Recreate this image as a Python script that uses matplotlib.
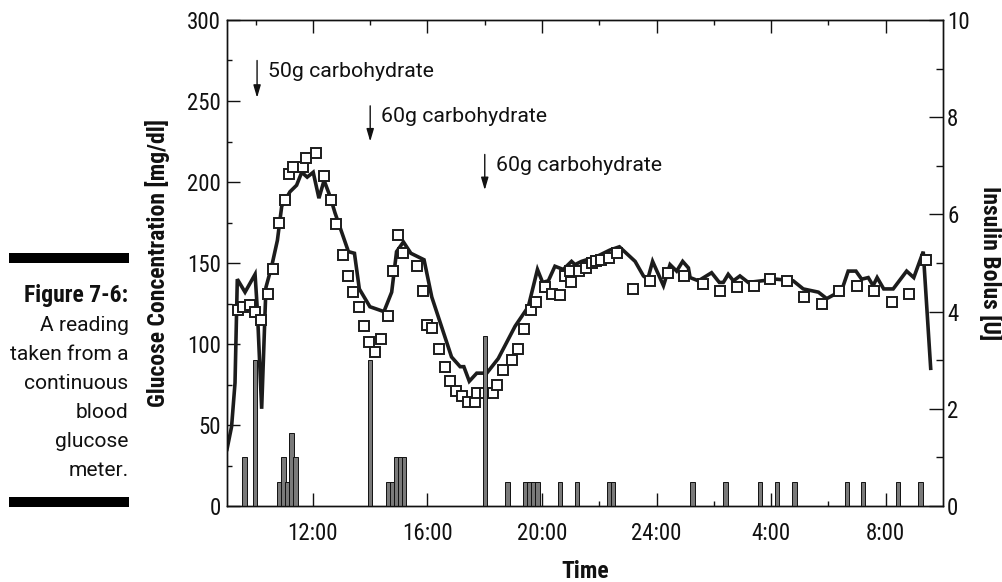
import matplotlib
matplotlib.use("Agg")
import matplotlib.pyplot as plt
from matplotlib.patches import Rectangle

# ---------------- data ----------------
# time in hours from midnight of day 1 (24 = midnight, 28 = 4:00 next day)
sensor_hours = [9.00, 9.16, 9.28, 9.36, 9.63, 9.98, 10.06, 10.21, 10.36, 10.56,
                10.76, 10.91, 11.20, 11.43, 11.61, 11.80, 12.01, 12.21, 12.39, 12.60,
                12.77, 13.24, 13.45, 13.62, 13.99, 14.48, 14.75, 14.92, 15.16, 15.42,
                15.88, 16.15, 16.84, 17.14, 17.27, 17.46, 17.72, 18.07, 18.47, 19.06,
                19.52, 19.84, 20.02, 20.22, 20.45, 20.74, 21.03, 21.15, 21.38, 21.91,
                22.37, 22.70, 23.25, 23.54, 23.69, 23.86, 24.24, 24.47, 24.70, 24.91,
                25.11, 25.17, 25.46, 25.92, 26.19, 26.33, 26.50, 26.68, 26.91, 27.20,
                27.67, 28.19, 28.77, 29.12, 29.65, 29.94, 30.46, 30.69, 30.96, 31.16,
                31.39, 31.56, 31.70, 31.93, 32.26, 32.73, 32.98, 33.31, 33.57]
sensor_glucose = [35, 49, 76, 140, 132, 143, 121, 60, 135, 148,
                  164, 185, 194, 198, 206, 203, 206, 190, 201, 191,
                  181, 157, 156, 134, 123, 120, 132, 157, 163, 156,
                  152, 129, 92, 86, 86, 77, 82, 82, 91, 111,
                  123, 146, 138, 139, 148, 146, 151, 149, 151, 154,
                  158, 160, 151, 142, 140, 151, 136, 149, 145, 151,
                  147, 141, 139, 144, 138, 138, 143, 139, 142, 138,
                  139, 140, 139, 134, 132, 128, 133, 145, 145, 140,
                  141, 136, 141, 134, 134, 145, 141, 157, 85]

ref_hours = [9.40, 9.55, 9.80, 9.97, 10.20, 10.44, 10.60, 10.82, 11.03, 11.18,
             11.32, 11.64, 11.76, 12.10, 12.39, 12.63, 12.81, 13.04, 13.24, 13.41,
             13.62, 13.78, 13.96, 14.17, 14.39, 14.61, 14.80, 14.98, 15.15, 15.65,
             15.85, 15.97, 16.17, 16.40, 16.61, 16.79, 16.98, 17.19, 17.40, 17.66,
             17.72, 18.01, 18.30, 18.44, 18.63, 18.94, 19.15, 19.38, 19.61, 19.78,
             20.10, 20.34, 20.63, 20.80, 20.98, 21.00, 21.30, 21.55, 21.73, 21.90,
             22.05, 22.35, 22.61, 23.17, 23.77, 24.41, 24.96, 25.61, 26.21, 26.82,
             27.40, 27.96, 28.56, 29.16, 29.76, 30.37, 31.01, 31.60, 32.21, 32.81,
             33.40]
ref_glucose = [121, 123, 124, 120, 115, 131, 146, 175, 189, 205,
               209, 209, 215, 218, 204, 189, 174, 155, 142, 132,
               123, 111, 101, 95, 103, 117, 145, 167, 156, 148,
               133, 112, 110, 97, 86, 77, 71, 68, 64, 64,
               70, 70, 70, 75, 84, 90, 97, 109, 121, 126,
               135, 131, 130, 142, 145, 138, 145, 147, 150, 151,
               152, 153, 156, 134, 139, 144, 142, 137, 133, 135,
               136, 140, 139, 129, 125, 133, 136, 133, 126, 131,
               152]

bolus_hours = [9.61, 9.97, 10.83, 10.97, 11.11, 11.25, 11.39, 13.99,
               14.61, 14.75, 14.89, 15.03, 15.17, 18.01, 18.79, 19.42,
               19.56, 19.70, 19.84, 20.63, 21.23, 22.33, 22.47, 25.25,
               26.41, 27.62, 28.21, 28.81, 30.65, 31.21, 32.42, 33.21]
bolus_units = [1.0, 3.0, 0.5, 1.0, 0.5, 1.5, 1.0, 3.0,
               0.5, 0.5, 1.0, 1.0, 1.0, 3.5, 0.5, 0.5,
               0.5, 0.5, 0.5, 0.5, 0.5, 0.5, 0.5, 0.5,
               0.5, 0.5, 0.5, 0.5, 0.5, 0.5, 0.5, 0.5]

x_major = [12, 16, 20, 24, 28, 32]
x_labels = ["12:00", "16:00", "20:00", "24:00", "4:00", "8:00"]
x_minor = [10, 14, 18, 22, 26, 30]

meal_hours = [10.05, 14.0, 18.0]
meal_labels = ["50g carbohydrate", "60g carbohydrate", "60g carbohydrate"]
meal_arrow_top = [275, 247, 217]
meal_arrow_tip = [252, 225, 195]

caption_title = "Figure 7-6:"
caption_lines = ["A reading", "taken from a", "continuous", "blood", "glucose", "meter."]

# ---------------- style ----------------
NARROW = ["Roboto Condensed", "Liberation Sans", "DejaVu Sans"]
PLAIN = ["Roboto", "Liberation Sans", "DejaVu Sans"]
plt.rcParams["font.family"] = NARROW
plt.rcParams["font.stretch"] = "condensed"

W, H = 1003, 582
fig = plt.figure(figsize=(W / 100, H / 100), dpi=100)
L, R, T, B = 227, 943, 20, 506
ax = fig.add_axes([L / W, 1 - B / H, (R - L) / W, (B - T) / H])
ax2 = ax.twinx()

ax.plot(sensor_hours, sensor_glucose, color="#1c1c1c", lw=2.6, solid_joinstyle="miter", zorder=2)
ax.plot(ref_hours, ref_glucose, ls="none", marker="s", ms=6.6, mfc="white",
        mec="#1c1c1c", mew=1.4, zorder=3)

ax2.bar(bolus_hours, bolus_units, width=0.15, color="#7a7a7a", edgecolor="#111111",
        linewidth=0.7, zorder=2)

ax.set_xlim(9, 34)
ax.set_ylim(0, 300)
ax2.set_ylim(0, 10)

ax.set_xticks(x_major)
ax.set_xticklabels(x_labels)
ax.set_xticks(x_minor, minor=True)
ax.set_yticks(range(0, 301, 50))
ax.set_yticks(range(25, 300, 50), minor=True)
ax2.set_yticks(range(0, 11, 2))
ax2.set_yticks(range(1, 10, 2), minor=True)

for a in (ax, ax2):
    for s in a.spines.values():
        s.set_linewidth(1.0)
        s.set_color("#111111")

ax.tick_params(which="both", direction="in", top=True, right=False, width=1.0, color="#111111")
ax.tick_params(which="major", length=9.4)
ax.tick_params(which="minor", length=3.6)
ax.tick_params(axis="x", which="major", pad=11.5)
ax.tick_params(axis="y", which="major", pad=4.5)
ax2.tick_params(which="both", direction="in", width=1.0, color="#111111")
ax2.tick_params(which="major", length=10, pad=3)
ax2.tick_params(which="minor", length=5)

for lab in ax.get_xticklabels() + ax.get_yticklabels() + ax2.get_yticklabels():
    lab.set_fontsize(16.5)
    lab.set_color("#111111")

ax.set_xlabel("Time", fontweight="bold", fontsize=17, color="#111111")
ax.xaxis.label.set_va("center")
ax.xaxis.set_label_coords(0.5, -(571 - B) / (B - T))

ax.set_ylabel("Glucose Concentration [mg/dl]", fontweight="bold", fontsize=17, color="#111111")
ax.yaxis.label.set_va("center")
ax.yaxis.set_label_coords((157.5 - L) / (R - L), 0.5)

ax2.set_ylabel("Insulin Bolus [U]", fontweight="bold", fontsize=17, rotation=270, color="#111111")
ax2.yaxis.label.set_va("center")
ax2.yaxis.label.set_rotation_mode("anchor")
ax2.yaxis.set_label_coords(1 + (990 - R) / (R - L), 0.5)

# meal annotations
for h, lbl, top, tip in zip(meal_hours, meal_labels, meal_arrow_top, meal_arrow_tip):
    ax.annotate("", xy=(h, tip), xytext=(h, top),
                arrowprops=dict(arrowstyle="-|>,head_length=0.75,head_width=0.22",
                                color="#111111", lw=1.0, shrinkA=0, shrinkB=0))
    ax.annotate(lbl, xy=(h, top), xytext=(8, -1), textcoords="offset points",
                ha="left", va="top", fontsize=15.3, color="#111111",
                family=PLAIN, stretch="normal")

# caption on the left
fig.add_artist(Rectangle((9.3 / W, 1 - 263.3 / H), 120 / W, 10 / H,
                         transform=fig.transFigure, color="black", lw=0))
fig.add_artist(Rectangle((9.3 / W, 1 - 507.3 / H), 120 / W, 10 / H,
                         transform=fig.transFigure, color="black", lw=0))
fig.text(128.5 / W, 1 - 302 / H, caption_title, ha="right", va="baseline",
         fontweight="bold", fontsize=17, color="#111111")
baselines = [331, 360, 389, 418, 447, 476.5]
for line, yb in zip(caption_lines, baselines):
    fig.text(128.5 / W, 1 - yb / H, line, ha="right", va="baseline",
             fontsize=15.1, color="#111111", family=PLAIN, stretch="normal")

fig.savefig("out.png", dpi=100)
